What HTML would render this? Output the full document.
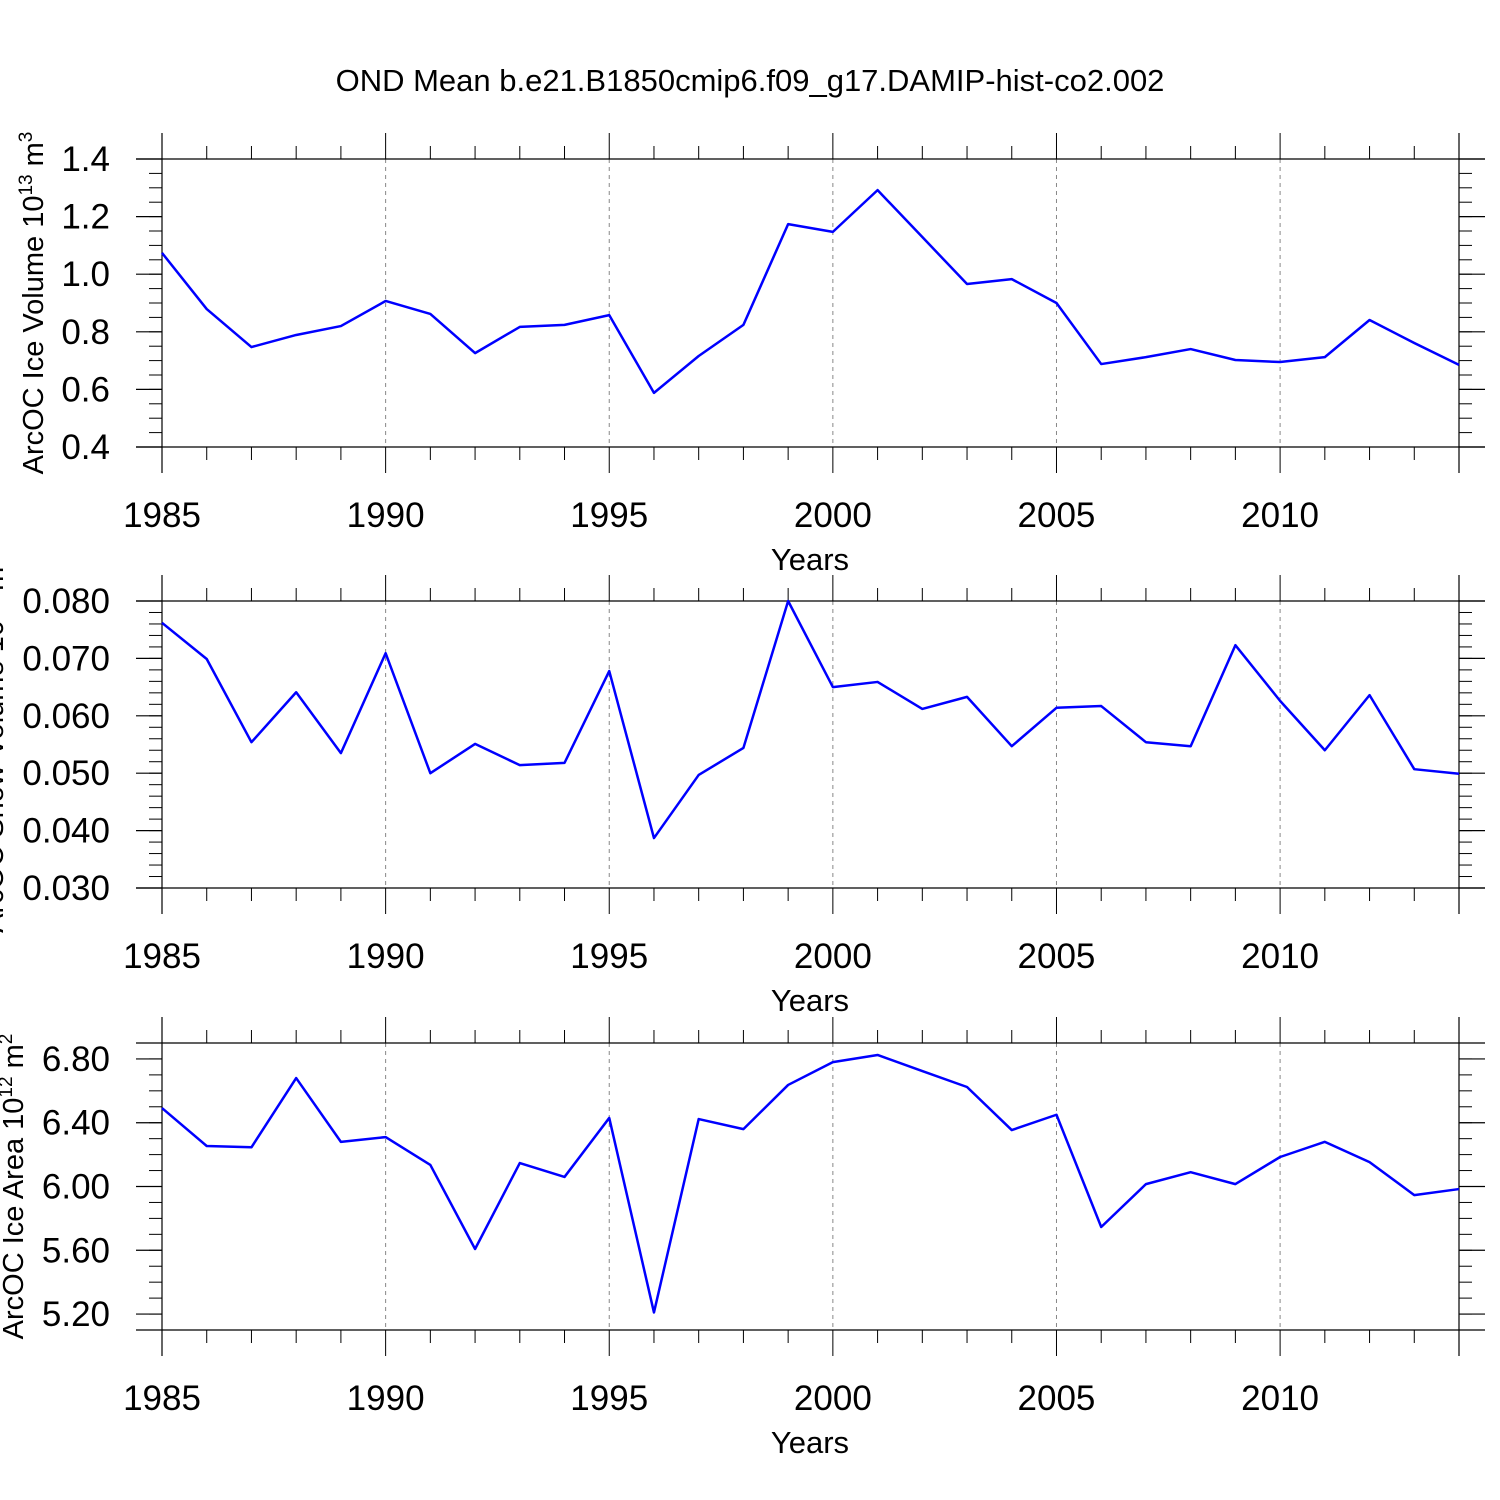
<!DOCTYPE html>
<html><head><meta charset="utf-8"><style>
html,body{margin:0;padding:0;background:#fff;}
svg{display:block;font-family:"Liberation Sans",Arial,sans-serif;}
</style></head><body>
<svg id="chart" width="1500" height="1500" viewBox="0 0 1500 1500" xmlns="http://www.w3.org/2000/svg">
<rect width="1500" height="1500" fill="#fff"/>
<text x="750" y="91" font-size="31" text-anchor="middle">OND Mean b.e21.B1850cmip6.f09_g17.DAMIP-hist-co2.002</text>
</svg>
<script>
const years = [1985,1986,1987,1988,1989,1990,1991,1992,1993,1994,1995,1996,1997,1998,1999,2000,2001,2002,2003,2004,2005,2006,2007,2008,2009,2010,2011,2012,2013,2014];
const iceVolume = [1.074,0.879,0.747,0.789,0.82,0.907,0.862,0.726,0.817,0.824,0.858,0.588,0.716,0.824,1.174,1.147,1.292,1.129,0.966,0.983,0.9,0.688,0.712,0.74,0.702,0.695,0.712,0.841,0.761,0.685];
const snowVolume = [0.0762,0.0699,0.0554,0.0641,0.0535,0.0709,0.050,0.0551,0.0514,0.0518,0.0678,0.0387,0.0497,0.0544,0.080,0.065,0.0659,0.0612,0.0633,0.0547,0.0614,0.0617,0.0554,0.0547,0.0723,0.0626,0.054,0.0636,0.0507,0.0499];
const iceArea = [6.492,6.254,6.246,6.68,6.28,6.31,6.135,5.608,6.147,6.06,6.43,5.21,6.423,6.36,6.637,6.78,6.825,6.724,6.624,6.354,6.45,5.746,6.015,6.09,6.015,6.185,6.28,6.153,5.946,5.984];
const xTickLabels = ["1985","1990","1995","2000","2005","2010"];
const volTicks = ["0.4","0.6","0.8","1.0","1.2","1.4"];
const snowTicks = ["0.030","0.040","0.050","0.060","0.070","0.080"];
const areaTicks = ["5.20","5.60","6.00","6.40","6.80"];

const NS="http://www.w3.org/2000/svg";
const svg=document.getElementById('chart');
function mk(tag,attrs,parent){const e=document.createElementNS(NS,tag);for(const k in attrs)e.setAttribute(k,attrs[k]);(parent||svg).appendChild(e);return e;}
const X0=162,X1=1459;
function xs(yr){return X0+(yr-1985)*(X1-X0)/(2014-1985);}

function panel(name,top,bot,ymin,ymax,ticks,minorStep,data,titleParts,titleX){
  const g=mk('g',{});
  
  
  const ys=v=>bot-(v-ymin)*(bot-top)/(ymax-ymin);
  for(let yr=1990;yr<=2010;yr+=5){
    const l=mk('line',{x1:xs(yr),x2:xs(yr),y1:top,y2:bot,stroke:'#888','stroke-width':1,'stroke-dasharray':'4,4'},g);
    
    
  }
  mk('line',{x1:X0-26,x2:X1+26,y1:top,y2:top,stroke:'#000','stroke-width':1.2},g);
  mk('line',{x1:X0-26,x2:X1+26,y1:bot,y2:bot,stroke:'#000','stroke-width':1.2},g);
  mk('line',{x1:X0,x2:X0,y1:top-26,y2:bot+26,stroke:'#000','stroke-width':1.2},g);
  mk('line',{x1:X1,x2:X1,y1:top-26,y2:bot+26,stroke:'#000','stroke-width':1.2},g);
  for(const yr of years){
    const maj=(yr-1985)%5===0; const L=maj?26:13; const x=xs(yr);
    mk('line',{x1:x,x2:x,y1:top-L,y2:top,stroke:'#000','stroke-width':1},g);
    mk('line',{x1:x,x2:x,y1:bot,y2:bot+L,stroke:'#000','stroke-width':1},g);
  }
  xTickLabels.forEach(t=>{
    const tx=mk('text',{x:xs(+t),y:bot+80,'font-size':35,'text-anchor':'middle'},g);
    tx.textContent=t;
    
    
  });
  const xt=mk('text',{x:810,y:bot+123,'font-size':31,'text-anchor':'middle'},g);
  xt.textContent='Years';
  
  
  const n=Math.round((ymax-ymin)/minorStep);
  for(let i=0;i<=n;i++){
    const y=ys(ymin+i*minorStep);
    mk('line',{x1:X0-13,x2:X0,y1:y,y2:y,stroke:'#000','stroke-width':1},g);
    mk('line',{x1:X1,x2:X1+13,y1:y,y2:y,stroke:'#000','stroke-width':1},g);
  }
  ticks.forEach(t=>{
    const y=ys(parseFloat(t));
    mk('line',{x1:X0-26,x2:X0,y1:y,y2:y,stroke:'#000','stroke-width':1.2},g);
    mk('line',{x1:X1,x2:X1+26,y1:y,y2:y,stroke:'#000','stroke-width':1.2},g);
    const tx=mk('text',{x:110,y:y+12,'font-size':35,'text-anchor':'end'},g);
    tx.textContent=t;
    
    
  });
  const cy=(top+bot)/2;
  const yt=mk('text',{x:titleX,y:cy,'font-size':29,'text-anchor':'middle',transform:`rotate(-90 ${titleX} ${cy})`},g);
  
  
  const a=mk('tspan',{},yt);a.textContent=titleParts[0];
  const b=mk('tspan',{dy:-11,'font-size':19},yt);b.textContent=titleParts[1];
  const c=mk('tspan',{dy:11},yt);c.textContent=titleParts[2];
  const d=mk('tspan',{dy:-11,'font-size':19},yt);d.textContent=titleParts[3];
  const pts=data.map((v,i)=>xs(years[i])+','+ys(v)).join(' ');
  const pl=mk('polyline',{points:pts,fill:'none',stroke:'#0000ff','stroke-width':2.5,'stroke-linejoin':'round'},g);
  
  
}
panel('ice-volume',159,447,0.4,1.4,volTicks,0.05,iceVolume,['ArcOC Ice Volume 10','13',' m','3'],43);
panel('snow-volume',601,888,0.03,0.08,snowTicks,0.002,snowVolume,['ArcOC Snow Volume 10','13',' m','3'],3);
panel('ice-area',1043,1330,5.1,6.9,areaTicks,0.1,iceArea,['ArcOC Ice Area 10','12',' m','2'],23);
</script>
</body></html>
